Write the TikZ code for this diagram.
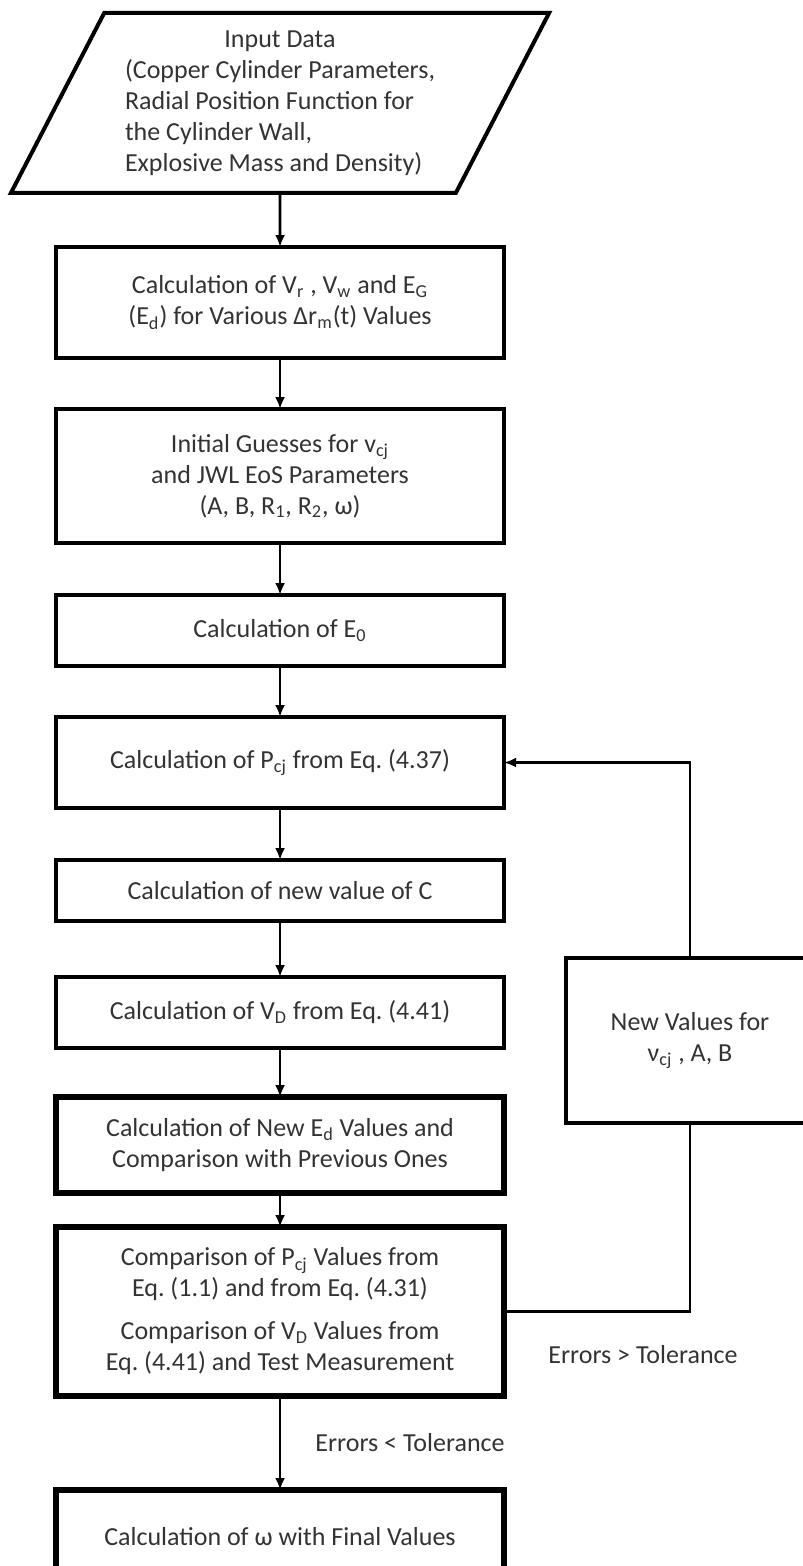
\documentclass[tikz,border=0pt]{standalone}
\usepackage{fontspec}
\setmainfont{Carlito}
\usetikzlibrary{arrows.meta,positioning,shapes.geometric}
\frenchspacing

\begin{document}
\begin{tikzpicture}[
    font=\fontsize{13}{15.5}\selectfont,
    box/.style={draw, line width=2pt, outer sep=0pt, align=center, text=black!80, minimum width=224pt, inner sep=2pt},
    boldbox/.style={box, line width=3pt},
    conn/.style={line width=1.4pt},
    arr/.style={conn, -{Latex[length=6pt, width=5pt]}},
    lbl/.style={text=black!80, inner sep=0pt}
]
\useasboundingbox (0,0) rectangle (401pt,-783pt);
% main column
\node[draw, line width=2pt, outer sep=0pt, trapezium, trapezium left angle=63, trapezium right angle=117,
      trapezium stretches=true, minimum width=270pt, minimum height=90pt, text=black!80]
      (input) at (140pt,-51.5pt)
      {\begin{tabular}{@{}l@{}}\multicolumn{1}{@{}c@{}}{Input Data}\\
       (Copper Cylinder Parameters,\\ Radial Position Function for\\
       the Cylinder Wall,\\ Explosive Mass and Density)\end{tabular}};
\node[box, minimum height=55.5pt, below=27pt of input] (vol)
      {Calculation of V\textsubscript{r} , V\textsubscript{w} and E\textsubscript{G}\\
       (E\textsubscript{d}) for Various Δr\textsubscript{m}(t) Values};
\node[box, minimum height=67pt, below=25.5pt of vol] (guess)
      {Initial Guesses for v\textsubscript{cj}\\ and JWL EoS Parameters\\
       (A, B, R\textsubscript{1}, R\textsubscript{2}, ω)};
\node[box, minimum height=35.5pt, below=26pt of guess] (ezero)
      {Calculation of E\textsubscript{0}};
\node[box, minimum height=45.5pt, below=25.5pt of ezero] (pcj)
      {Calculation of P\textsubscript{cj} from Eq. (4.37)};
\node[box, minimum height=30.5pt, below=26pt of pcj] (cval)
      {Calculation of new value of C};
\node[box, minimum height=35.5pt, below=28pt of cval] (vd)
      {Calculation of V\textsubscript{D} from Eq. (4.41)};
\node[boldbox, minimum height=48pt, below=24.5pt of vd] (ed)
      {Calculation of New E\textsubscript{d} Values and\\ Comparison with Previous Ones};
\node[boldbox, minimum height=84.5pt, below=17pt of ed] (comp)
      {Comparison of P\textsubscript{cj} Values from\\ Eq. (1.1) and from Eq. (4.31)\\[6pt]
       Comparison of V\textsubscript{D} Values from\\ Eq. (4.41) and Test Measurement};
\node[boldbox, minimum height=47pt, below=47pt of comp] (omega)
      {Calculation of ω with Final Values};
% side box
\node[box, minimum width=124pt, minimum height=82.5pt] (newv) at (345pt,-520.25pt)
      {New Values for\\ ν\textsubscript{cj} , A, B};

\draw[arr] (input) -- (vol);
\draw[arr] (vol) -- (guess);
\draw[arr] (guess) -- (ezero);
\draw[arr] (ezero) -- (pcj);
\draw[arr] (pcj) -- (cval);
\draw[arr] (cval) -- (vd);
\draw[arr] (vd) -- (ed);
\draw[arr] (ed) -- (comp);
\draw[arr] (comp) -- node[lbl, right=17pt] (less) {Errors < Tolerance} (omega);
% loop back
\draw[conn] (comp.east) -| (newv.south);
\draw[arr] (newv.north) |- (pcj.east);
\node[lbl] (more) at (321.5pt,-677.5pt) {Errors > Tolerance};
\end{tikzpicture}
\end{document}
